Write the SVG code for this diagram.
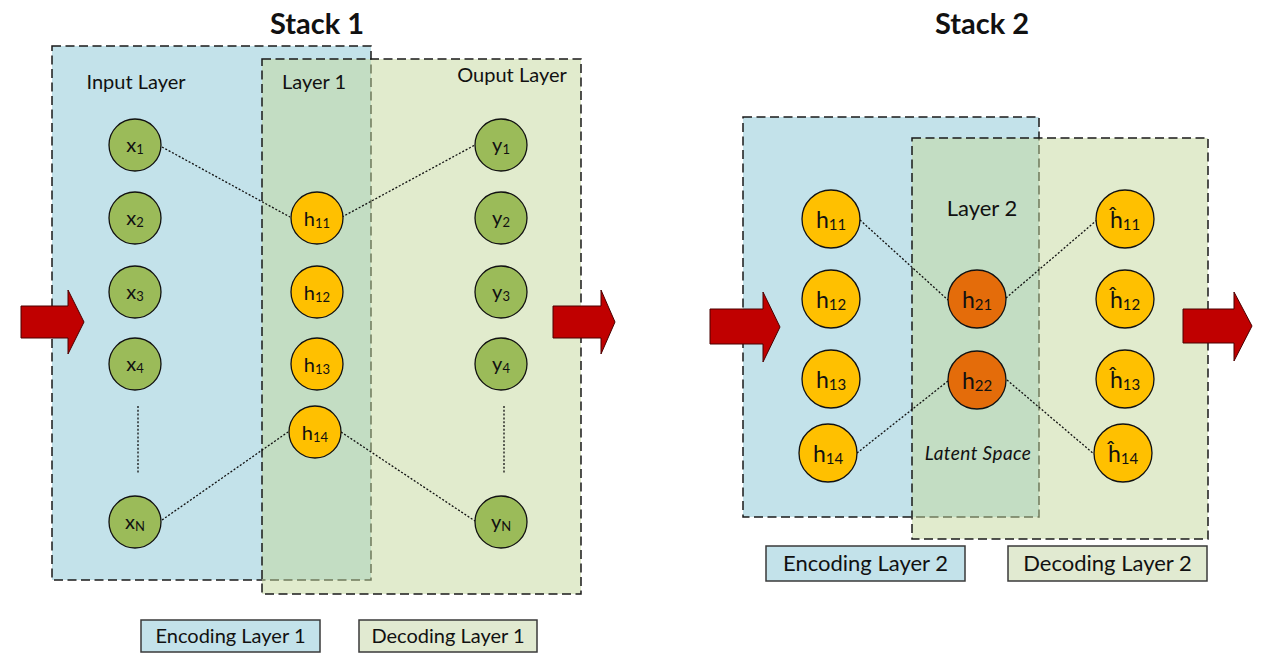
<svg xmlns="http://www.w3.org/2000/svg" width="1271" height="658" viewBox="0 0 1271 658">
<defs>
<style>
.enc{fill:#C3E2EA;stroke:#1a1a1a;stroke-width:1.5;stroke-dasharray:9 4.5}
.dec{fill:#C4D79B;fill-opacity:0.5;stroke:#1a1a1a;stroke-width:1.5;stroke-dasharray:9 4.5}
.conn{stroke:#111;stroke-width:1.3;stroke-dasharray:2 1.8;fill:none}
.gn{fill:#9BBB59;stroke:#111;stroke-width:1.3}
.yn{fill:#FFC000;stroke:#111;stroke-width:1.3}
.on{fill:#E46C0A;stroke:#111;stroke-width:1.3}
.t{font-family:Lato,"Liberation Sans",sans-serif;fill:#111;text-anchor:middle}
.n1{font-size:20px}
.n2{font-size:23px}
.s1{font-size:13px}
.s2{font-size:15px}
.lbl{font-size:20px}
.lbl2{font-size:22px}
.title{font-size:29px;font-weight:bold}
.arrow{fill:#C00000;stroke:#4a0000;stroke-width:1}
.legE{fill:#C3E2EA;stroke:#3a3a3a;stroke-width:1.5}
.legD{fill:#E1EAD1;stroke:#3a3a3a;stroke-width:1.5}
</style>
</defs>
<rect width="1271" height="658" fill="#ffffff"/>

<!-- Stack 1 -->
<g id="stack1-encoding-region"><rect class="enc" x="52" y="46" width="319" height="534"/></g>
<g id="stack1-decoding-region"><rect class="dec" x="262" y="59" width="319" height="535"/></g>

<!-- Stack 2 -->
<g id="stack2-encoding-region"><rect class="enc" x="743" y="117" width="296" height="400"/></g>
<g id="stack2-decoding-region"><rect class="dec" x="912" y="138" width="296" height="401"/></g>

<g id="connectors">
<line class="conn" x1="162" y1="147" x2="290" y2="217"/>
<line class="conn" x1="342" y1="217" x2="475" y2="145"/>
<line class="conn" x1="162" y1="520" x2="288" y2="432"/>
<line class="conn" x1="341" y1="432" x2="475" y2="521"/>
<line class="conn" x1="138" y1="406" x2="138" y2="474"/>
<line class="conn" x1="504" y1="406" x2="504" y2="474"/>
<line class="conn" x1="860" y1="220" x2="948" y2="300"/>
<line class="conn" x1="1006" y1="298" x2="1097" y2="220"/>
<line class="conn" x1="857" y1="453" x2="948" y2="381"/>
<line class="conn" x1="1007" y1="380" x2="1094" y2="454"/>
</g>

<!-- Stack 1 nodes -->
<g id="x1"><circle class="gn" cx="135" cy="145" r="26"/><text class="t n1" x="135" y="152">x<tspan class="s1" dy="2">1</tspan></text></g>
<g id="x2"><circle class="gn" cx="135" cy="218" r="26"/><text class="t n1" x="135" y="225">x<tspan class="s1" dy="2">2</tspan></text></g>
<g id="x3"><circle class="gn" cx="135" cy="292" r="26"/><text class="t n1" x="135" y="299">x<tspan class="s1" dy="2">3</tspan></text></g>
<g id="x4"><circle class="gn" cx="135" cy="364" r="26"/><text class="t n1" x="135" y="371">x<tspan class="s1" dy="2">4</tspan></text></g>
<g id="xN"><circle class="gn" cx="135" cy="522" r="26"/><text class="t n1" x="135" y="529">x<tspan class="s1" dy="2">N</tspan></text></g>

<g id="s1-h11"><circle class="yn" cx="317" cy="218" r="26"/><text class="t n1" x="317" y="226">h<tspan class="s1" dy="2">11</tspan></text></g>
<g id="s1-h12"><circle class="yn" cx="317" cy="292" r="26"/><text class="t n1" x="317" y="300">h<tspan class="s1" dy="2">12</tspan></text></g>
<g id="s1-h13"><circle class="yn" cx="317" cy="364" r="26"/><text class="t n1" x="317" y="372">h<tspan class="s1" dy="2">13</tspan></text></g>
<g id="s1-h14"><circle class="yn" cx="315" cy="432" r="26"/><text class="t n1" x="315" y="440">h<tspan class="s1" dy="2">14</tspan></text></g>

<g id="y1"><circle class="gn" cx="501" cy="145" r="26"/><text class="t n1" x="501" y="152">y<tspan class="s1" dy="2">1</tspan></text></g>
<g id="y2"><circle class="gn" cx="501" cy="218" r="26"/><text class="t n1" x="501" y="225">y<tspan class="s1" dy="2">2</tspan></text></g>
<g id="y3"><circle class="gn" cx="501" cy="292" r="26"/><text class="t n1" x="501" y="299">y<tspan class="s1" dy="2">3</tspan></text></g>
<g id="y4"><circle class="gn" cx="501" cy="364" r="26"/><text class="t n1" x="501" y="371">y<tspan class="s1" dy="2">4</tspan></text></g>
<g id="yN"><circle class="gn" cx="501" cy="522" r="26"/><text class="t n1" x="501" y="529">y<tspan class="s1" dy="2">N</tspan></text></g>

<!-- Stack 2 nodes -->
<g id="s2-h11"><circle class="yn" cx="831" cy="219" r="29"/><text class="t n2" x="831" y="228">h<tspan class="s2" dy="2">11</tspan></text></g>
<g id="s2-h12"><circle class="yn" cx="831" cy="299" r="29"/><text class="t n2" x="831" y="308">h<tspan class="s2" dy="2">12</tspan></text></g>
<g id="s2-h13"><circle class="yn" cx="831" cy="379" r="29"/><text class="t n2" x="831" y="388">h<tspan class="s2" dy="2">13</tspan></text></g>
<g id="s2-h14"><circle class="yn" cx="828" cy="453" r="29"/><text class="t n2" x="828" y="462">h<tspan class="s2" dy="2">14</tspan></text></g>

<g id="h21"><circle class="on" cx="977" cy="299" r="29"/><text class="t n2" x="977" y="308">h<tspan class="s2" dy="2">21</tspan></text></g>
<g id="h22"><circle class="on" cx="977" cy="380" r="29"/><text class="t n2" x="977" y="389">h<tspan class="s2" dy="2">22</tspan></text></g>

<g id="hhat11"><circle class="yn" cx="1125" cy="219" r="29"/><text class="t n2" x="1125" y="228">ĥ<tspan class="s2" dy="2">11</tspan></text></g>
<g id="hhat12"><circle class="yn" cx="1125" cy="299" r="29"/><text class="t n2" x="1125" y="308">ĥ<tspan class="s2" dy="2">12</tspan></text></g>
<g id="hhat13"><circle class="yn" cx="1125" cy="379" r="29"/><text class="t n2" x="1125" y="388">ĥ<tspan class="s2" dy="2">13</tspan></text></g>
<g id="hhat14"><circle class="yn" cx="1123" cy="453" r="29"/><text class="t n2" x="1123" y="462">ĥ<tspan class="s2" dy="2">14</tspan></text></g>

<!-- Labels -->
<g id="labels">
<text class="t title" x="317" y="34">Stack 1</text>
<text class="t title" x="982" y="34">Stack 2</text>
<text class="t lbl" x="136" y="89">Input Layer</text>
<text class="t lbl" x="314" y="89">Layer 1</text>
<text class="t lbl" x="512" y="82">Ouput Layer</text>
<text class="t lbl2" x="982" y="216">Layer 2</text>
<text class="t" x="978" y="460" style="font-size:19px;font-style:italic;letter-spacing:0.4px">Latent Space</text>
</g>

<!-- Arrows -->
<g id="arrow-in-1"><polygon class="arrow" points="21,306 68,306 68,290 84,322 68,354 68,338 21,338"/></g>
<g id="arrow-out-1"><polygon class="arrow" points="553,306 601,306 601,290 615,322 601,354 601,338 553,338"/></g>
<g id="arrow-in-2"><polygon class="arrow" points="710,309 763,309 763,292 780,327 763,362 763,344 710,344"/></g>
<g id="arrow-out-2"><polygon class="arrow" points="1183,309 1234,309 1234,292 1252,326 1234,361 1234,343 1183,343"/></g>

<!-- Legends -->
<g id="legend-enc1"><rect class="legE" x="141" y="620" width="179" height="32"/><text class="t lbl" x="230.5" y="643">Encoding Layer 1</text></g>
<g id="legend-dec1"><rect class="legD" x="359" y="620" width="178" height="32"/><text class="t lbl" x="448" y="643">Decoding Layer 1</text></g>
<g id="legend-enc2"><rect class="legE" x="766" y="546" width="199" height="35"/><text class="t lbl2" x="865.5" y="571">Encoding Layer 2</text></g>
<g id="legend-dec2"><rect class="legD" x="1008" y="546" width="199" height="35"/><text class="t lbl2" x="1107.5" y="571">Decoding Layer 2</text></g>
</svg>
